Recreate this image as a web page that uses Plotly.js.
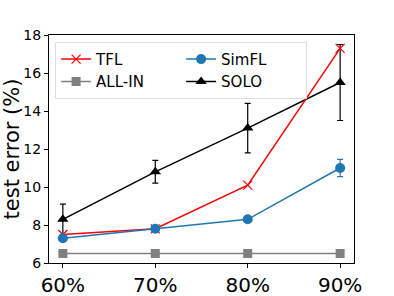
<!DOCTYPE html>
<html>
<head>
<script src="https://cdn.plot.ly/plotly-3.0.1.min.js"></script>
<style>html,body{margin:0;padding:0;background:#fff}</style>
</head>
<body>
<div id="chart" style="width:394px;height:296px"></div>
<script>
const xVals = [60, 70, 80, 90];
const xTickText = ['60%', '70%', '80%', '90%'];
const tfl = [7.5, 7.8, 10.1, 17.3];
const allIn = [6.5, 6.5, 6.5, 6.5];
const simfl = [7.3, 7.8, 8.3, 11.0];
const simflErr = [0.1, 0.1, 0.1, 0.45];
const solo = [8.3, 10.8, 13.1, 15.5];
const soloErr = [0.8, 0.6, 1.3, 2.0];

const font = 'DejaVu Sans, sans-serif';
const traces = [
  {x: xVals, y: allIn, name: 'ALL-IN', mode: 'lines+markers', legendrank: 3,
   line: {color: '#808080', width: 1.5}, marker: {symbol: 'square', size: 9, color: '#808080'}},
  {x: xVals, y: solo, name: 'SOLO', mode: 'lines+markers', legendrank: 4,
   error_y: {type: 'data', array: soloErr, visible: true, color: '#000', thickness: 1.2, width: 3},
   line: {color: '#000', width: 1.5}, marker: {symbol: 'triangle-up', size: 10, color: '#000'}},
  {x: xVals, y: tfl, name: 'TFL', mode: 'lines+markers', legendrank: 1,
   line: {color: '#ff0000', width: 1.5}, marker: {symbol: 'x-thin', size: 9, line: {color: '#ff0000', width: 1.2}, color: '#ff0000'}},
  {x: xVals, y: simfl, name: 'SimFL', mode: 'lines+markers', legendrank: 2,
   error_y: {type: 'data', array: simflErr, visible: true, color: '#1f77b4', thickness: 1.2, width: 3},
   line: {color: '#1f77b4', width: 1.5}, marker: {symbol: 'circle', size: 10, color: '#1f77b4'}}
];

const layout = {
  width: 394, height: 296,
  margin: {l: 49, r: 40, t: 35, b: 33},
  paper_bgcolor: '#fff', plot_bgcolor: '#fff',
  font: {family: font, color: '#000'},
  showlegend: true,
  legend: {
    orientation: 'h', x: 0.02, y: 0.97, xanchor: 'left', yanchor: 'top',
    font: {family: font, size: 15, color: '#000'},
    bordercolor: '#dddddd', borderwidth: 1, bgcolor: 'rgba(255,255,255,0.8)',
    entrywidth: 80, entrywidthmode: 'pixels', traceorder: 'normal',
    tracegroupgap: 0
  },
  xaxis: {
    range: [58.5, 91.5], tickvals: xVals, ticktext: xTickText,
    showgrid: false, zeroline: false, showline: true, mirror: true,
    linecolor: '#000', linewidth: 1, ticks: 'outside', ticklen: 4, tickcolor: '#000',
    tickfont: {family: font, size: 20, color: '#000'}
  },
  yaxis: {
    range: [6, 18], tickvals: [6, 8, 10, 12, 14, 16, 18],
    showgrid: false, zeroline: false, showline: true, mirror: true,
    linecolor: '#000', linewidth: 1, ticks: 'outside', ticklen: 4, tickcolor: '#000',
    tickfont: {family: font, size: 14, color: '#000'},
    title: {text: 'test error (%)', font: {family: font, size: 21, color: '#000'}, standoff: 6}
  }
};
Plotly.newPlot('chart', traces, layout, {displayModeBar: false, staticPlot: true});
</script>
</body>
</html>
